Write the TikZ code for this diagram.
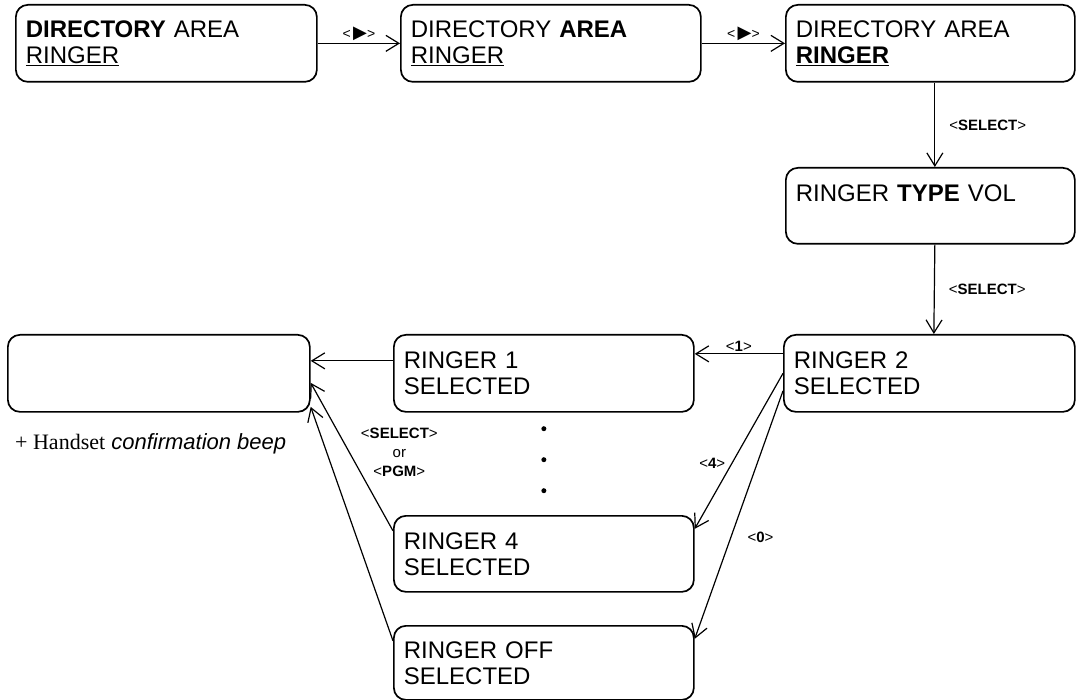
\documentclass[tikz,border=0pt]{standalone}
\usepackage{fontspec}
\setmainfont{Liberation Sans}
\newfontfamily\timesfont{Liberation Serif}
\newfontfamily\symbfont{DejaVu Sans}
\usetikzlibrary{arrows.meta}

\newcommand{\key}[1]{<\textbf{#1}>}
\newcommand{\rightkey}{{\fontsize{14}{14}\selectfont<}\,{\symbfont\fontsize{18}{18}\selectfont ▶}{\fontsize{14}{14}\selectfont>}}

\begin{document}
\begin{tikzpicture}[x=1pt,y=-1pt,
  screen/.style={draw, line width=1.7pt, rounded corners=12pt, anchor=north west, align=left,
    inner xsep=10pt, minimum height=77pt, font=\fontsize{24}{26}\selectfont},
  key/.style={inner sep=2pt, font=\fontsize{15}{19}\selectfont},
  dot/.style={circle, fill, inner sep=0pt, minimum size=5pt},
  go/.style={line width=1.2pt, -{Straight Barb[length=13pt,width=16pt]}},
]
\useasboundingbox (0,0) rectangle (1076,700);

\node[screen, text width=281pt] (dirdir)  at (15,4)    {\textbf{DIRECTORY} AREA\\\underline{RINGER}};
\node[screen, text width=280pt] (dirarea) at (400,4)   {DIRECTORY \textbf{AREA}\\\underline{RINGER}};
\node[screen, text width=269pt] (dirring) at (785,4)   {DIRECTORY AREA\\\textbf{\underline{RINGER}}};
\node[screen, text width=269pt, minimum height=76pt] (ringtype) at (785,167) {RINGER \textbf{TYPE} VOL\\\mbox{}};
\node[screen, text width=271pt] (ringtwo)  at (783,334) {RINGER 2\\SELECTED};
\node[screen, text width=280pt] (ringone)  at (393,334) {RINGER 1\\SELECTED};
\node[screen, text width=282pt] (done)     at (7,334)   {};
\node[screen, text width=280pt, minimum height=76pt] (ringfour) at (393,515) {RINGER 4\\SELECTED};
\node[screen, text width=280pt, minimum height=74pt] (ringoff)  at (393,625) {RINGER OFF\\SELECTED};

\node[anchor=west, inner sep=0pt, font=\fontsize{22}{22}\selectfont] (beep) at ([xshift=8pt,yshift=-31pt]done.south west)
  {{\timesfont\fontsize{22}{22}\selectfont + Handset} \textit{confirmation beep}};
\foreach \d [count=\i] in {16pt,47pt,78pt}
  \node[dot] (more\i) at ([yshift=-\d]ringone.south) {};

\draw[go] (dirdir) -- node[key, above] {\rightkey} (dirarea);
\draw[go] (dirarea) -- node[key, above] {\rightkey} (dirring);
\draw[go] ([xshift=4.5pt]dirring.south) -- node[key, right=12pt] {\key{SELECT}} ([xshift=4.5pt]ringtype.north);
\draw[go] ([xshift=4.5pt]ringtype.south) -- node[key, right=12pt] {\key{SELECT}} ([xshift=4.5pt]ringtwo.north);
\draw[go] ([yshift=19.5pt]ringtwo.west) -- node[key, above] {\key{1}} ([yshift=19.5pt]ringone.east);
\draw[go] ([yshift=12.5pt]ringone.west) -- ([yshift=12.5pt]done.east);
\draw[go] (ringtwo.west) -- node[key, pos=0.58, left=4pt] {\key{4}} ([yshift=25pt]ringfour.east);
\draw[go] ([yshift=-17.5pt]ringtwo.west) -- node[key, pos=0.59, right=14pt] {\key{0}} ([yshift=24pt]ringoff.east);
\draw[go] ([yshift=23pt]ringfour.west) -- node[key, pos=0.53, right=9pt, align=center] {\key{SELECT}\\or\\\key{PGM}} ([yshift=-9.5pt]done.east);
\draw[go] ([yshift=22pt]ringoff.west) -- ([yshift=-33.5pt]done.east);
\end{tikzpicture}
\end{document}
